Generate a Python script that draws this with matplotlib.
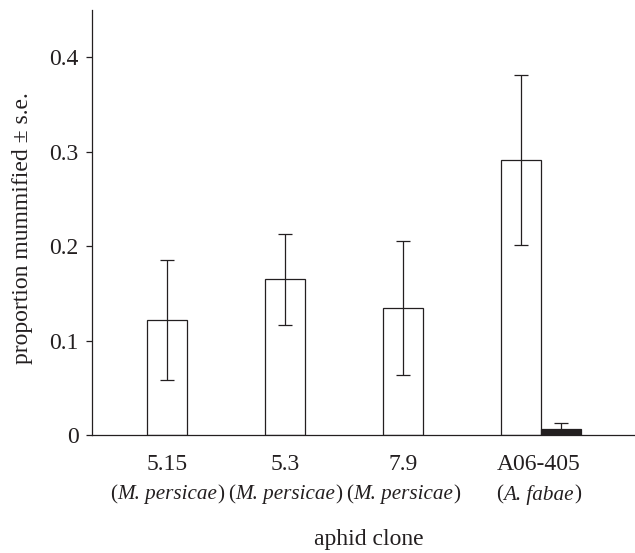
import numpy as np
import matplotlib.pyplot as plt
import matplotlib.transforms as mtransforms
from matplotlib.offsetbox import TextArea, HPacker, AnnotationBbox

plt.rcParams['font.family'] = 'Liberation Serif'

clones = ['5.15', '5.3', '7.9', 'A06-405']
species = ['M. persicae', 'M. persicae', 'M. persicae', 'A. fabae']
white_vals = [0.122, 0.165, 0.135, 0.291]
white_err = [0.0635, 0.048, 0.071, 0.090]
black_vals = [0.0067]
black_err = [0.006]

ink = '#231f20'
fs = 17
fam = 'Liberation Serif'

fig = plt.figure(figsize=(6.35, 5.53), dpi=100)
ax = fig.add_axes([91.7/635, 117.7/553, 1 - 91.7/635, (543 - 117.7)/553])

x = np.arange(len(clones))
w = 0.339
ekw = dict(ecolor=ink, elinewidth=0.9, capsize=4.7, capthick=0.9)
ax.bar(x, white_vals, width=w, color='white', edgecolor=ink, linewidth=0.9,
       yerr=white_err, error_kw=ekw)
ax.bar([3 + w], black_vals, width=w, color=ink, edgecolor=ink, linewidth=0.9,
       yerr=black_err, error_kw=ekw)

ax.set_xlim(-0.638, 3.958 + 1/118)
ax.set_ylim(0, 0.45)
ax.set_yticks([0, 0.1, 0.2, 0.3, 0.4])
ax.set_yticklabels(['0', '0.1', '0.2', '0.3', '0.4'], family=fam)
ax.tick_params(axis='y', length=4.3, width=0.9, color=ink, labelsize=fs, pad=5, labelcolor=ink)
ax.set_xticks([])
for s in ['top', 'right']:
    ax.spines[s].set_visible(False)
for s in ['left', 'bottom']:
    ax.spines[s].set_linewidth(0.9)
    ax.spines[s].set_color(ink)

label_pos = [0, 1, 2, 3.15]
trans = mtransforms.blended_transform_factory(ax.transData, ax.transAxes)
for xp, c, sp in zip(label_pos, clones, species):
    ax.text(xp, -0.0687, c, transform=trans, ha='center', va='center',
            fontsize=fs, color=ink, family=fam)
    prop = dict(fontsize=15.2, color=ink, family=fam)
    parts = [TextArea('(', textprops=prop),
             TextArea(sp, textprops=dict(prop, style='italic')),
             TextArea(')', textprops=prop)]
    box = HPacker(children=parts, pad=0, sep=0, align='baseline')
    ab = AnnotationBbox(box, (xp, -0.140), xycoords=trans, box_alignment=(0.5, 0.5),
                        frameon=False, pad=0)
    ax.add_artist(ab)

fig.text(369/635, 1 - 539/553, 'aphid clone', ha='center', va='center',
         fontsize=fs, color=ink, family=fam)
fig.text(23/635, 1 - 228/553, 'proportion mummified ± s.e.', ha='center', va='center',
         rotation=90, fontsize=fs, color=ink, family=fam)

fig.savefig('out.png', dpi=100)
